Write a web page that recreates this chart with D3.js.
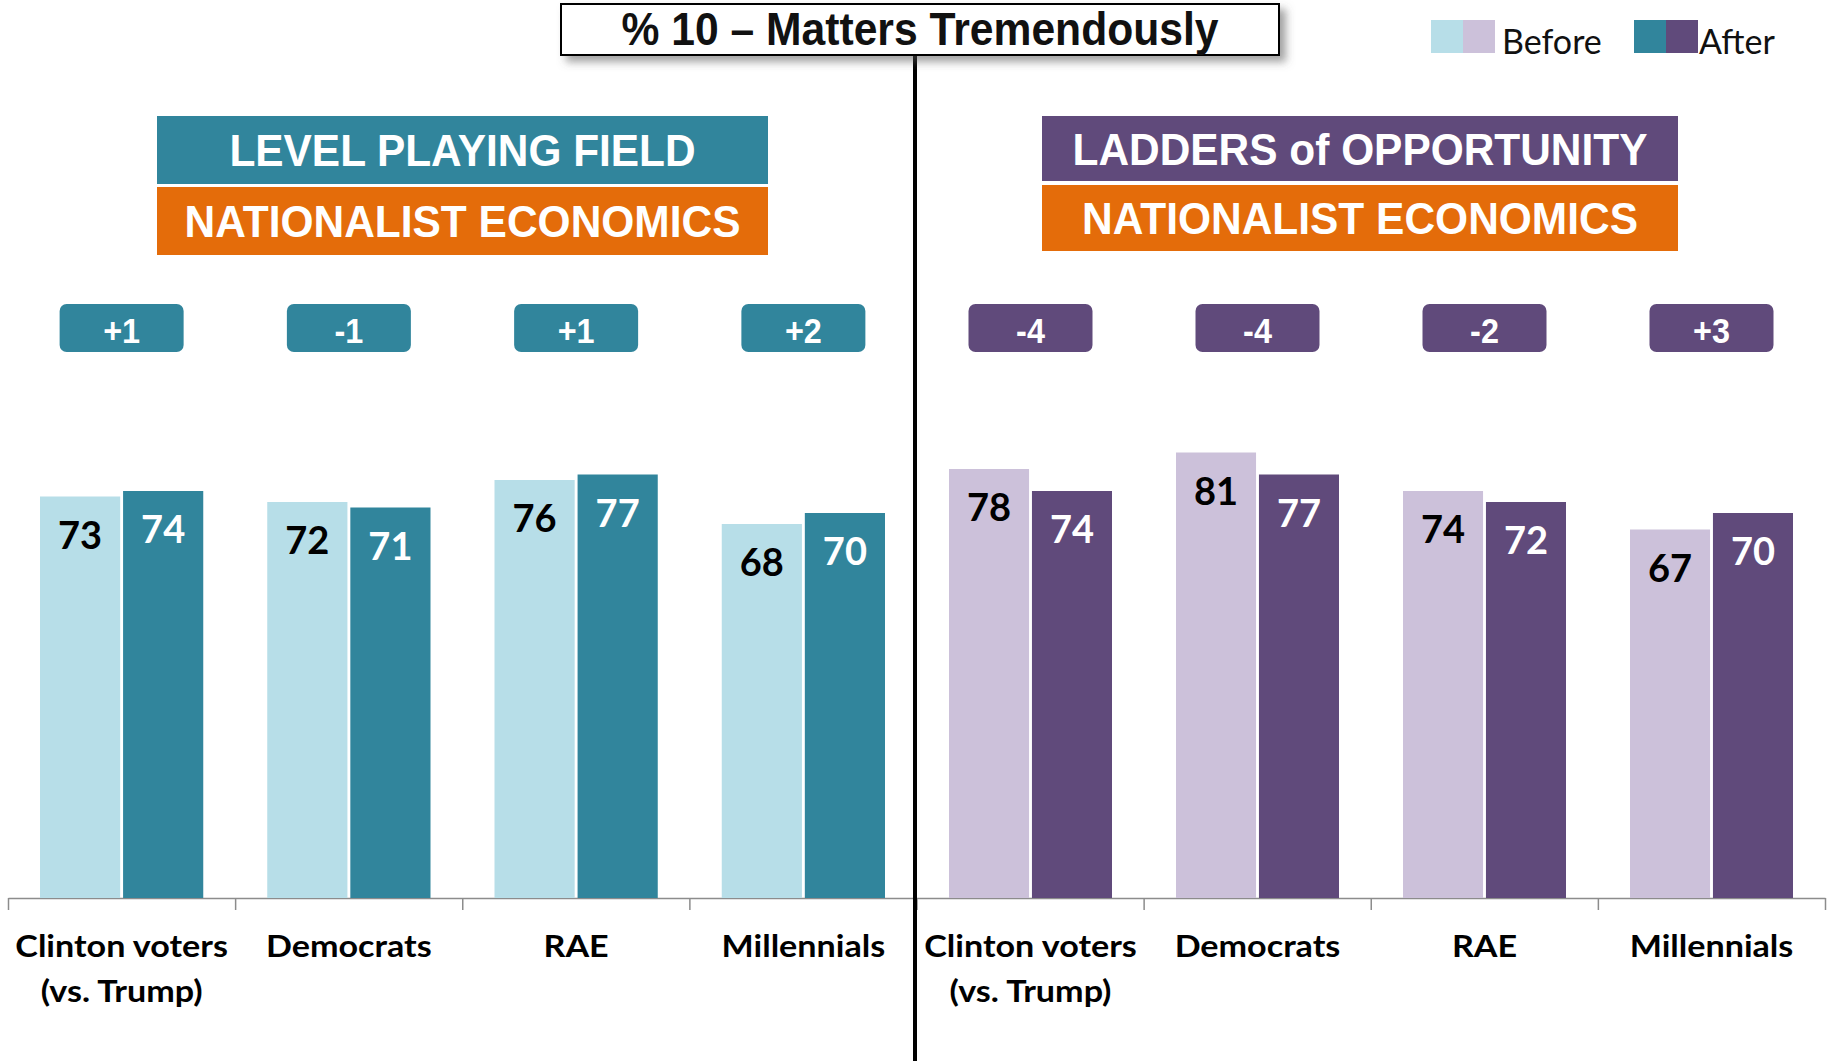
<!DOCTYPE html>
<html>
<head>
<meta charset="utf-8">
<script src="https://cdnjs.cloudflare.com/ajax/libs/d3/7.8.5/d3.min.js"></script>
<style>
  html, body { margin: 0; padding: 0; background: #fff; }
  svg { display: block; }
</style>
</head>
<body>
<svg id="chart" width="1833" height="1061"></svg>
<script>
// ---- data ----
const categories = ["Clinton voters|(vs. Trump)", "Democrats", "RAE", "Millennials"];
const seriesNames = ["Before", "After"];
const levelBefore = [73, 72, 76, 68];
const levelAfter = [74, 71, 77, 70];
const laddersBefore = [78, 81, 74, 67];
const laddersAfter = [74, 77, 72, 70];
const chartTitle = "% 10 \u2013 Matters Tremendously";
const leftHeaders = ["LEVEL PLAYING FIELD", "NATIONALIST ECONOMICS"];
const rightHeaders = ["LADDERS of OPPORTUNITY", "NATIONALIST ECONOMICS"];

// ---- palette / type ----
const C = {
  tealDark: "#31859C", tealLight: "#B7DEE8",
  purpleDark: "#604A7B", purpleLight: "#CCC1DA",
  orange: "#E46C0A", axis: "#8C8C8C"
};
const sansBold = "'Liberation Sans', Arial, sans-serif";
const humanist = "Lato, 'Open Sans', sans-serif";

const svg = d3.select("#chart");
const defs = svg.append("defs");
const shadow = defs.append("filter").attr("id", "boxShadow")
  .attr("x", "-5%").attr("y", "-30%").attr("width", "115%").attr("height", "190%");
shadow.append("feDropShadow").attr("dx", 6).attr("dy", 6)
  .attr("stdDeviation", 4).attr("flood-color", "#555").attr("flood-opacity", 0.55);

// ---- scales ----
const baseY = 898;
const y = d3.scaleLinear().domain([0, 100]).range([baseY, 348]);
const panels = [
  { x0: 8, x1: 917, before: levelBefore, after: levelAfter,
    light: C.tealLight, dark: C.tealDark, headers: leftHeaders,
    headerColor: C.tealDark, hx0: 157, hx1: 768, hy: [116, 184, 187, 255],
    headerWidths: [466, 556] },
  { x0: 917, x1: 1825, before: laddersBefore, after: laddersAfter,
    light: C.purpleLight, dark: C.purpleDark, headers: rightHeaders,
    headerColor: C.purpleDark, hx0: 1042, hx1: 1678, hy: [116, 181, 185, 251],
    headerWidths: [575, 556] }
];

// ---- category axis across both panels (ticks sit on group boundaries) ----
const boundary = d3.scaleLinear().domain([0, 8]).range([8, 1825]);
const axis = d3.axisBottom(boundary).tickValues(d3.range(0, 9))
  .tickFormat("").tickSizeInner(12).tickSizeOuter(0);
const axG = svg.append("g").attr("transform", `translate(0,${baseY})`).call(axis);
axG.selectAll("path, line").attr("stroke", C.axis).attr("stroke-width", 1.5);

panels.forEach(p => {
  const x = d3.scaleBand().domain(categories).range([p.x0, p.x1]).padding(0);
  const inner = d3.scaleBand().domain(seriesNames)
    .range([32, x.bandwidth() - 32]).paddingInner(0.035);
  const rows = categories.map((c, i) => ({ cat: c, before: p.before[i], after: p.after[i] }));

  const grp = svg.append("g").selectAll("g.grp").data(rows).join("g")
    .attr("transform", d => `translate(${x(d.cat)},0)`);

  seriesNames.forEach(s => {
    const key = s.toLowerCase();
    grp.append("rect")
      .attr("x", inner(s)).attr("width", inner.bandwidth())
      .attr("y", d => y(d[key])).attr("height", d => baseY - y(d[key]))
      .attr("fill", s === "Before" ? p.light : p.dark);
    grp.append("text")
      .attr("x", inner(s) + inner.bandwidth() / 2)
      .attr("y", d => y(d[key]) + 52)
      .attr("text-anchor", "middle")
      .attr("font-family", humanist).attr("font-weight", 700).attr("font-size", 38)
      .attr("fill", s === "Before" ? "#000" : "#fff")
      .text(d => d[key]);
  });

  const cx = x.bandwidth() / 2;

  // change badges (after minus before)
  grp.append("rect")
    .attr("x", cx - 62).attr("y", 304)
    .attr("width", 124).attr("height", 48).attr("rx", 7)
    .attr("fill", p.dark);
  grp.append("g").attr("transform", `translate(${cx},0) scale(0.9,1)`)
    .append("text")
    .attr("x", 0).attr("y", 343)
    .attr("text-anchor", "middle")
    .attr("font-family", sansBold).attr("font-weight", 700).attr("font-size", 36)
    .attr("fill", "#fff")
    .text(d => { const v = d.after - d.before; return (v > 0 ? "+" : "") + v; });

  // category labels, slightly widened around the group centre
  grp.append("g").attr("transform", `translate(${cx},0) scale(1.1,1)`)
    .append("text")
    .attr("text-anchor", "middle")
    .attr("font-family", humanist).attr("font-weight", 700).attr("font-size", 31)
    .attr("fill", "#000")
    .selectAll("tspan").data(d => d.cat.split("|")).join("tspan")
    .attr("x", 0)
    .attr("y", (d, i) => 957 + i * 45)
    .text(d => d);

  // section headers
  const hy = p.hy;
  [[p.headerColor, hy[0], hy[1]], [C.orange, hy[2], hy[3]]].forEach(([fill, t, b], i) => {
    svg.append("rect").attr("x", p.hx0).attr("y", t)
      .attr("width", p.hx1 - p.hx0).attr("height", b - t).attr("fill", fill);
    svg.append("text")
      .attr("x", (p.hx0 + p.hx1) / 2).attr("y", (t + b) / 2 + 16)
      .attr("text-anchor", "middle")
      .attr("font-family", sansBold).attr("font-weight", 700).attr("font-size", 45)
      .attr("textLength", p.headerWidths[i]).attr("lengthAdjust", "spacingAndGlyphs")
      .attr("fill", "#fff").text(p.headers[i]);
  });
});

// ---- divider between the two panels ----
svg.append("line").attr("x1", 915).attr("x2", 915).attr("y1", 50).attr("y2", 1061)
  .attr("stroke", "#000").attr("stroke-width", 4);

// ---- title box ----
svg.append("rect").attr("x", 561).attr("y", 4).attr("width", 718).attr("height", 51)
  .attr("fill", "#fff").attr("stroke", "#000").attr("stroke-width", 2)
  .attr("filter", "url(#boxShadow)");
svg.append("text").attr("x", 920).attr("y", 45).attr("text-anchor", "middle")
  .attr("font-family", sansBold).attr("font-weight", 700).attr("font-size", 46)
  .attr("textLength", 597).attr("lengthAdjust", "spacingAndGlyphs")
  .attr("fill", "#111").text(chartTitle);

// ---- legend ----
const legend = [
  { label: "Before", colors: [C.tealLight, C.purpleLight], x: 1431, tx: 71 },
  { label: "After", colors: [C.tealDark, C.purpleDark], x: 1634, tx: 65 }
];
const lg = svg.append("g").selectAll("g").data(legend).join("g")
  .attr("transform", d => `translate(${d.x},20)`);
lg.each(function(d) {
  const el = d3.select(this);
  d.colors.forEach((c, i) => el.append("rect").attr("x", i * 32).attr("y", 0)
    .attr("width", 32).attr("height", 33).attr("fill", c));
  el.append("text").attr("x", d.tx).attr("y", 34)
    .attr("font-family", humanist).attr("font-size", 34).attr("fill", "#111")
    .text(d.label);
});
</script>
</body>
</html>
